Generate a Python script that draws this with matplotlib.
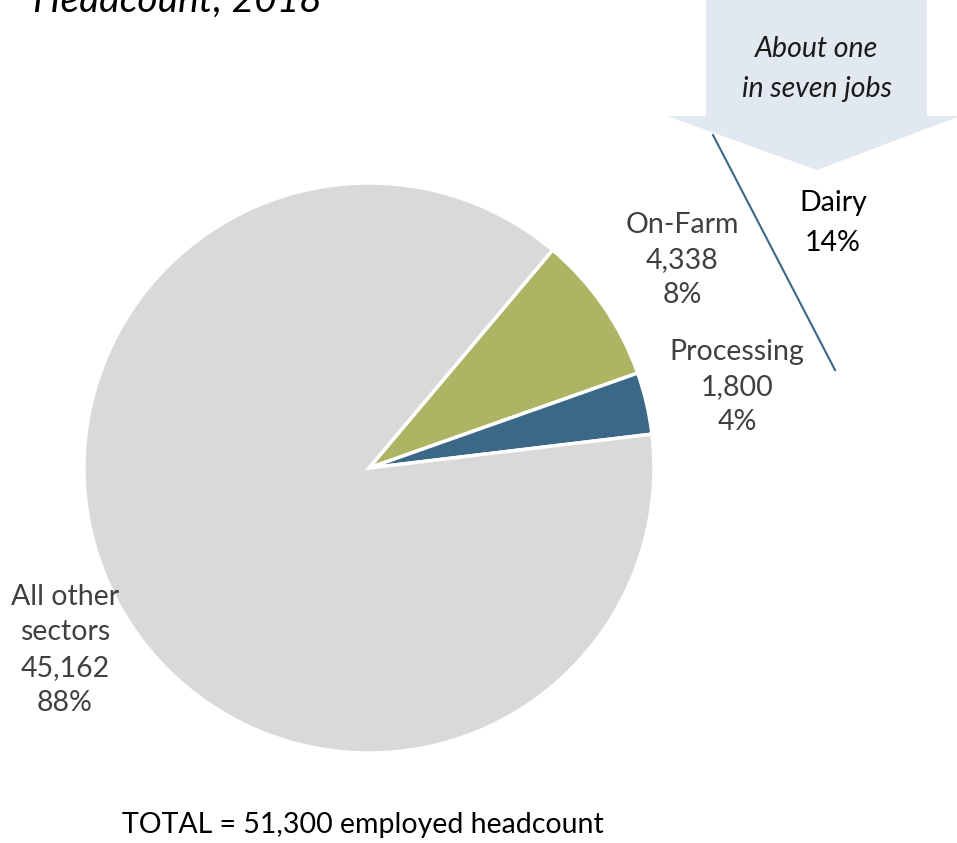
import matplotlib.pyplot as plt
from matplotlib.patches import Polygon

# employment by sector, headcount 2018
sectors = ["On-Farm", "Processing", "All other\nsectors"]
headcount = [4338, 1800, 45162]
shares = ["8%", "4%", "88%"]
colors = ["#ADB564", "#3B6886", "#D9D9D9"]
total = 51300
dairy_share = "14%"

plt.rcParams['font.family'] = ['Lato', 'DejaVu Sans']

W, H = 957, 843
fig = plt.figure(figsize=(W / 100, H / 100), dpi=100)
ax = fig.add_axes([0, 0, 1, 1])
ax.set_xlim(0, W)
ax.set_ylim(0, H)
ax.set_aspect('equal')
ax.axis('off')

def y(v):
    # pixel rows measured from the top
    return H - v

ax.pie(headcount, colors=colors, center=(369, y(468)), radius=285,
       startangle=49.9, counterclock=False,
       wedgeprops=dict(edgecolor='white', linewidth=2.5))
ax.set_xlim(0, W)
ax.set_ylim(0, H)

fs = 20.5
lbl = dict(ha='center', va='center', fontsize=fs, color='#404040',
           linespacing=1.45)
ax.text(682, y(260), f"{sectors[0]}\n{headcount[0]:,}\n{shares[0]}", **lbl)
ax.text(737, y(387), f"{sectors[1]}\n{headcount[1]:,}\n{shares[1]}", **lbl)
ax.text(65, y(650), f"{sectors[2]}\n{headcount[2]:,}\n{shares[2]}", **lbl)

# arrow callout for dairy
arrow = Polygon([(706, y(-5)), (927, y(-5)), (927, y(116)), (960, y(116)),
                 (817, y(170)), (667, y(116)), (706, y(116))],
                closed=True, facecolor='#E1E8EF', edgecolor='none')
ax.add_patch(arrow)
ax.text(817, y(69), "About one\nin seven jobs", ha='center', va='center',
        fontsize=fs, style='italic', color='#1a1a1a', linespacing=1.65)
ax.plot([713, 835], [y(135), y(370)], color='#3B6886', linewidth=1.5)
ax.text(833, y(223), f"Dairy\n{dairy_share}", ha='center', va='center',
        fontsize=fs, color='black', linespacing=1.65)

ax.text(363, y(825), f"TOTAL = {total:,} employed headcount", ha='center',
        va='center', fontsize=fs, color='black')
ax.text(33, y(12), "Headcount; 2018", ha='left', va='baseline',
        fontsize=28, style='italic', color='black')

fig.savefig("out.png", dpi=100)
